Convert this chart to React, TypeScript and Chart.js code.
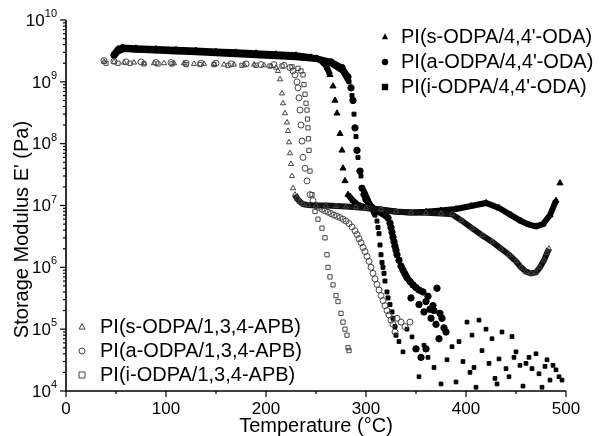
import React, { useEffect, useRef } from 'react';
import { Chart, registerables } from 'chart.js';
Chart.register(...registerables);

// ---------- data (temperature °C, storage modulus Pa) ----------
const T_S44 = [48, 52, 56, 70, 90, 110, 130, 150, 170, 190, 210, 230, 245, 253, 258, 261, 264, 267, 269, 271, 274, 276, 277, 279, 282, 287, 291, 301, 315, 330, 345, 360, 375, 390, 405, 420, 433, 445, 455, 463, 470, 477, 484, 490, 494];
const E_S44 = [2.8e9, 3.4e9, 3.6e9, 3.5e9, 3.4e9, 3.3e9, 3.2e9, 3.1e9, 3.0e9, 2.9e9, 2.8e9, 2.7e9, 2.5e9, 2.3e9, 2.0e9, 1.7e9, 1.3e9, 8.5e8, 5e8, 3.1e8, 1.45e8, 7.8e7, 4.0e7, 2.5e7, 1.5e7, 1.2e7, 1.05e7, 9.1e6, 8.5e6, 7.9e6, 7.7e6, 7.9e6, 8.3e6, 8.8e6, 9.8e6, 1.1e7, 9.1e6, 7.0e6, 5.6e6, 4.9e6, 4.6e6, 5.0e6, 7.0e6, 1.2e7, 2.3e7];

const T_A44 = [48, 52, 58, 70, 90, 110, 130, 150, 170, 190, 210, 230, 250, 265, 276, 282, 285, 287, 289, 291, 294, 296, 298, 300, 303, 306, 310, 314, 317, 320, 322, 324, 325, 326, 327, 328, 329, 330, 331, 333, 335, 337, 339, 341, 344, 347, 350, 353, 357];
const E_A44 = [2.7e9, 3.2e9, 3.5e9, 3.4e9, 3.3e9, 3.2e9, 3.1e9, 3.0e9, 2.9e9, 2.8e9, 2.7e9, 2.6e9, 2.4e9, 2.1e9, 1.7e9, 1.2e9, 8e8, 5e8, 1.8e8, 7.8e7, 3.6e7, 1.9e7, 1.5e7, 1.25e7, 1.05e7, 9.3e6, 8.5e6, 7.8e6, 7.3e6, 6.8e6, 6.3e6, 5.2e6, 4.4e6, 3.7e6, 3.1e6, 2.6e6, 2.2e6, 1.9e6, 1.6e6, 1.3e6, 1.05e6, 9e5, 7.8e5, 6.8e5, 5.9e5, 5.2e5, 4.7e5, 4.3e5, 4.0e5];
const T_A44_TAIL = [345, 353, 358, 360, 362, 364, 367, 365, 370, 371, 376, 378, 380, 373, 360, 350, 355, 368, 374];
const E_A44_TAIL = [3.2e5, 2.5e5, 1.9e5, 2.8e5, 3.4e5, 2.1e5, 2.4e5, 1.5e5, 1.2e5, 4.6e5, 1.5e5, 1.05e5, 9e4, 7e4, 4.8e4, 4.8e4, 3.5e4, 2.0e5, 1.8e5];

const T_I44 = [48, 52, 58, 70, 90, 110, 130, 150, 170, 190, 210, 230, 250, 265, 277, 283, 286, 288, 290, 292, 295, 298, 302, 306, 309, 311, 312, 313, 314, 315, 316, 317, 318, 319, 321, 322, 324, 326, 327, 329, 330];
const E_I44 = [2.6e9, 3.1e9, 3.4e9, 3.3e9, 3.2e9, 3.1e9, 3.0e9, 2.9e9, 2.8e9, 2.7e9, 2.6e9, 2.5e9, 2.35e9, 2.0e9, 1.5e9, 1.0e9, 6e8, 3e8, 1.3e8, 6e7, 3e7, 1.7e7, 1.2e7, 9e6, 7e6, 5.6e6, 4.4e6, 3.5e6, 2.3e6, 1.6e6, 1.2e6, 1.0e6, 8e5, 6e5, 4e5, 3.2e5, 2.5e5, 1.9e5, 1.5e5, 1.1e5, 8e4];
const T_I44_TAIL = [333, 337, 341, 346, 353, 358, 362, 368, 375, 381, 386, 390, 393, 397, 401, 404, 406, 408, 410, 413, 416, 420, 423, 426, 429, 431, 433, 436, 440, 443, 446, 448, 450, 454, 457, 460, 463, 466, 470, 473, 476, 479, 481, 484, 487, 490, 493, 496];
const E_I44_TAIL = [6.3e4, 4.3e4, 1.0e5, 7.5e4, 1.7e4, 5.5e4, 3.5e4, 2.4e4, 1.3e4, 3.2e4, 5.2e4, 1.4e4, 6.3e4, 3.0e4, 1.3e5, 2.0e4, 8e4, 2.4e4, 1.15e4, 1.4e5, 4.5e4, 1.0e5, 2.8e4, 7e4, 1.6e4, 1.3e4, 3.3e4, 9e4, 2.3e4, 1.7e4, 7.6e4, 3.5e4, 4.3e4, 2.6e4, 1.2e4, 2.8e4, 3.5e4, 2.3e4, 4.0e4, 1.9e4, 1.15e4, 2.5e4, 3.2e4, 1.5e4, 2.6e4, 2.2e4, 1.7e4, 1.5e4];

const T_S134 = [38, 48, 58, 68, 78, 88, 98, 108, 118, 128, 138, 148, 158, 168, 178, 188, 198, 205, 210, 212, 214, 216, 217, 219, 221, 222, 223, 224, 225, 226, 227, 229, 231, 234, 237, 242, 250, 260, 270, 280, 290, 300, 315, 330, 345, 360, 375, 386, 395, 406, 416, 426, 435, 443, 450, 455, 460, 465, 470, 474, 478, 481, 483];
const E_S134 = [2.1e9, 2.1e9, 2.05e9, 2.05e9, 2.0e9, 2.0e9, 2.0e9, 2.0e9, 2.0e9, 1.95e9, 1.95e9, 1.95e9, 1.9e9, 1.9e9, 1.9e9, 1.9e9, 1.85e9, 1.8e9, 1.7e9, 1.5e9, 1.1e9, 6.5e8, 4.5e8, 3.1e8, 2.2e8, 1.6e8, 1.05e8, 7e7, 4.7e7, 3e7, 1.9e7, 1.5e7, 1.3e7, 1.15e7, 1.05e7, 1.02e7, 1.0e7, 1.0e7, 9.8e6, 9.6e6, 9.4e6, 9.1e6, 8.6e6, 8.0e6, 7.7e6, 7.6e6, 7.4e6, 7.2e6, 5.8e6, 4.3e6, 3.3e6, 2.6e6, 2.0e6, 1.6e6, 1.25e6, 1.0e6, 8.5e5, 8e5, 8.3e5, 1.0e6, 1.3e6, 1.7e6, 2.0e6];

const T_A134 = [38, 48, 60, 75, 90, 105, 120, 135, 150, 165, 180, 195, 208, 218, 224, 227, 229, 231, 232, 233, 234, 235, 236, 237, 239, 241, 244, 247, 250, 253, 256, 259, 262, 265, 268, 271, 274, 277, 280, 283, 286, 289, 291, 293, 295, 297, 299, 301, 303, 305, 307, 309, 311, 313, 315, 317, 319, 321, 323, 325, 327, 329, 331, 335, 339, 344];
const E_A134 = [2.2e9, 2.15e9, 2.1e9, 2.1e9, 2.05e9, 2.05e9, 2.0e9, 2.0e9, 2.0e9, 1.95e9, 1.95e9, 1.9e9, 1.9e9, 1.85e9, 1.7e9, 1.5e9, 1.3e9, 1.0e9, 8e8, 5.5e8, 3.5e8, 2.0e8, 1.1e8, 6e7, 4e7, 2.5e7, 1.5e7, 1.2e7, 1.0e7, 9.3e6, 8.7e6, 8.2e6, 7.8e6, 7.4e6, 7.0e6, 6.7e6, 6.4e6, 6.0e6, 5.6e6, 5.1e6, 4.5e6, 3.9e6, 3.4e6, 2.9e6, 2.5e6, 2.1e6, 1.8e6, 1.5e6, 1.25e6, 1.0e6, 8e5, 6.5e5, 5.3e5, 4.3e5, 3.5e5, 2.9e5, 2.4e5, 2.0e5, 1.7e5, 1.4e5, 1.2e5, 9e4, 1.5e5, 1.3e5, 1.1e5, 1.3e5];

const T_I134 = [40, 52, 64, 78, 92, 106, 120, 134, 148, 162, 176, 190, 204, 216, 226, 232, 235, 237, 238, 239, 240, 241, 241.5, 242, 242.5, 243, 244, 246, 249, 252, 256, 259, 261, 262, 264, 267, 270, 272, 275, 277, 279, 281, 282, 283];
const E_I134 = [2.0e9, 2.0e9, 2.0e9, 1.95e9, 1.95e9, 1.95e9, 1.9e9, 1.9e9, 1.9e9, 1.85e9, 1.85e9, 1.85e9, 1.8e9, 1.8e9, 1.75e9, 1.65e9, 1.5e9, 1.3e9, 9e8, 6.3e8, 4.5e8, 3.5e8, 2.5e8, 1.8e8, 1.2e8, 7.8e7, 3.6e7, 1.5e7, 8e6, 6e6, 4.3e6, 3e6, 1.6e6, 1.0e6, 7e5, 5.2e5, 3.5e5, 2.8e5, 1.8e5, 1.3e5, 1.0e5, 8e4, 5e4, 4.5e4];

const LEGEND_FILLED = ["PI(s-ODPA/4,4'-ODA)", "PI(a-ODPA/4,4'-ODA)", "PI(i-ODPA/4,4'-ODA)"];
const LEGEND_OPEN = ['PI(s-ODPA/1,3,4-APB)', 'PI(a-ODPA/1,3,4-APB)', 'PI(i-ODPA/1,3,4-APB)'];
const X_TICKS = [0, 100, 200, 300, 400, 500];
const Y_EXPONENTS = [4, 5, 6, 7, 8, 9, 10];
const X_TITLE = 'Temperature (°C)';
const Y_TITLE = "Storage Modulus E' (Pa)";

const FONT = "'Liberation Sans', Arial, Helvetica, sans-serif";
const OPEN_COLOR = '#444';

function pts(t: number[], e: number[]) {
  return t.map((x, i) => ({ x, y: e[i] }));
}

function marker(ctx: CanvasRenderingContext2D, style: string, x: number, y: number, r: number, filled: boolean) {
  ctx.beginPath();
  if (style === 'triangle') {
    ctx.moveTo(x, y - r * 1.15);
    ctx.lineTo(x + r, y + r * 0.7);
    ctx.lineTo(x - r, y + r * 0.7);
    ctx.closePath();
  } else if (style === 'circle') {
    ctx.arc(x, y, r, 0, Math.PI * 2);
  } else {
    ctx.rect(x - r, y - r, 2 * r, 2 * r);
  }
  if (filled) {
    ctx.fillStyle = '#000';
    ctx.fill();
  } else {
    ctx.strokeStyle = OPEN_COLOR;
    ctx.lineWidth = 1;
    ctx.stroke();
  }
}

const decor = {
  id: 'decor',
  afterDraw(chart: any) {
    const ctx: CanvasRenderingContext2D = chart.ctx;
    const xs = chart.scales.x;
    const ys = chart.scales.y;
    const { left, right, top, bottom } = chart.chartArea;
    ctx.save();
    ctx.strokeStyle = '#000';
    ctx.lineWidth = 1.6;
    ctx.beginPath();
    ctx.moveTo(left, top);
    ctx.lineTo(left, bottom);
    ctx.lineTo(right, bottom);
    ctx.stroke();
    ctx.lineWidth = 1.2;
    for (let v = 0; v <= 500; v += 50) {
      const px = xs.getPixelForValue(v);
      const len = v % 100 === 0 ? 6 : 3;
      ctx.beginPath();
      ctx.moveTo(px, bottom);
      ctx.lineTo(px, bottom + len);
      ctx.stroke();
    }
    for (let n = 4; n <= 10; n++) {
      const py = ys.getPixelForValue(Math.pow(10, n));
      ctx.beginPath();
      ctx.moveTo(left, py);
      ctx.lineTo(left - 6, py);
      ctx.stroke();
      if (n < 10) {
        for (let m = 2; m <= 9; m++) {
          const pm = ys.getPixelForValue(m * Math.pow(10, n));
          ctx.beginPath();
          ctx.moveTo(left, pm);
          ctx.lineTo(left - 3, pm);
          ctx.stroke();
        }
      }
    }
    ctx.fillStyle = '#000';
    ctx.font = `17px ${FONT}`;
    ctx.textAlign = 'center';
    ctx.textBaseline = 'top';
    X_TICKS.forEach((v) => ctx.fillText(String(v), xs.getPixelForValue(v), bottom + 10));
    Y_EXPONENTS.forEach((n) => {
      const py = ys.getPixelForValue(Math.pow(10, n));
      const exp = String(n);
      ctx.font = `11px ${FONT}`;
      const ew = ctx.measureText(exp).width;
      const rx = left - 9;
      ctx.textAlign = 'left';
      ctx.textBaseline = 'alphabetic';
      ctx.fillText(exp, rx - ew, py - 3);
      ctx.font = `17px ${FONT}`;
      ctx.textAlign = 'right';
      ctx.textBaseline = 'middle';
      ctx.fillText('10', rx - ew, py + 1);
    });
    ctx.font = `20px ${FONT}`;
    ctx.textAlign = 'center';
    ctx.textBaseline = 'bottom';
    ctx.fillText(X_TITLE, (left + right) / 2, 436);
    ctx.save();
    ctx.translate(22, (top + bottom) / 2 + 24);
    ctx.rotate(-Math.PI / 2);
    ctx.textBaseline = 'middle';
    ctx.fillText(Y_TITLE, 0, 0);
    ctx.restore();
    const styles = ['triangle', 'circle', 'rect'];
    ctx.font = `20px ${FONT}`;
    ctx.textAlign = 'left';
    ctx.textBaseline = 'middle';
    LEGEND_FILLED.forEach((txt, i) => {
      const y = 37 + i * 25;
      marker(ctx, styles[i], 385, y, 3.2, true);
      ctx.fillStyle = '#000';
      ctx.fillText(txt, 401, y);
    });
    LEGEND_OPEN.forEach((txt, i) => {
      const y = 327 + i * 24;
      marker(ctx, styles[i], 82, y, 3, false);
      ctx.fillStyle = '#000';
      ctx.fillText(txt, 100, y);
    });
    ctx.restore();
  },
};

export default function App() {
  const ref = useRef<HTMLCanvasElement>(null);
  useEffect(() => {
    document.body.style.margin = '0';
    const steep = (c: any) => {
      const dx = Math.abs(c.p1.x - c.p0.x) || 0.01;
      return Math.abs(c.p1.y - c.p0.y) / dx > 2.5;
    };
    const hideSteep = (c: any) => (steep(c) ? 'rgba(0,0,0,0)' : '#000');
    const bandOnly = (e: number[]) => (c: any) => {
      const v0 = e[c.p0DataIndex];
      const v1 = e[c.p1DataIndex];
      const ok = v0 < 1.6e7 && v1 < 1.6e7 && !steep(c);
      return ok ? '#111' : 'rgba(0,0,0,0)';
    };
    const filled = (data: any, style: string, r: number) => ({
      data,
      showLine: true,
      borderColor: '#000',
      borderWidth: 6,
      segment: { borderColor: hideSteep },
      pointStyle: style,
      pointRadius: r,
      pointBackgroundColor: '#000',
      pointBorderColor: '#000',
      pointBorderWidth: 1,
    });
    const open = (data: any, style: string, r: number, seg?: any) => ({
      data,
      showLine: !!seg,
      borderColor: '#111',
      borderWidth: 6,
      segment: seg ? { borderColor: seg } : undefined,
      pointStyle: style,
      pointRadius: r,
      pointBackgroundColor: 'rgba(255,255,255,0)',
      pointBorderColor: OPEN_COLOR,
      pointBorderWidth: 1,
    });
    const scatter = (data: any, style: string, r: number) => ({
      data,
      showLine: false,
      pointStyle: style,
      pointRadius: r,
      pointBackgroundColor: '#000',
      pointBorderColor: '#000',
      pointBorderWidth: 1,
    });
    const chart = new Chart(ref.current!, {
      type: 'scatter',
      data: {
        datasets: [
          open(pts(T_S134, E_S134), 'triangle', 3, bandOnly(E_S134)),
          open(pts(T_A134, E_A134), 'circle', 3),
          open(pts(T_I134, E_I134), 'rect', 3),
          filled(pts(T_S44, E_S44), 'triangle', 3.5),
          filled(pts(T_A44, E_A44), 'circle', 3.2),
          filled(pts(T_I44, E_I44), 'rect', 2.8),
          scatter(pts(T_A44_TAIL, E_A44_TAIL), 'circle', 3.2),
          scatter(pts(T_I44_TAIL, E_I44_TAIL), 'rect', 2.6),
        ] as any,
      },
      options: {
        animation: false,
        responsive: false,
        devicePixelRatio: 1,
        layout: { padding: { left: 0, top: 20, right: 48, bottom: 0 } },
        plugins: { legend: { display: false }, tooltip: { enabled: false } },
        scales: {
          x: {
            type: 'linear',
            min: 0,
            max: 500,
            grid: { display: false },
            border: { display: false },
            ticks: { display: false },
            afterFit: (s: any) => { s.height = 45; },
          },
          y: {
            type: 'logarithmic',
            min: 1e4,
            max: 1e10,
            grid: { display: false },
            border: { display: false },
            ticks: { display: false },
            afterFit: (s: any) => { s.width = 66; },
          },
        },
      },
      plugins: [decor],
    });
    return () => chart.destroy();
  }, []);
  return (
    <div style={{ position: 'absolute', left: 0, top: 0, width: 614, height: 436, background: '#fff' }}>
      <canvas ref={ref} width={614} height={436} />
    </div>
  );
}
